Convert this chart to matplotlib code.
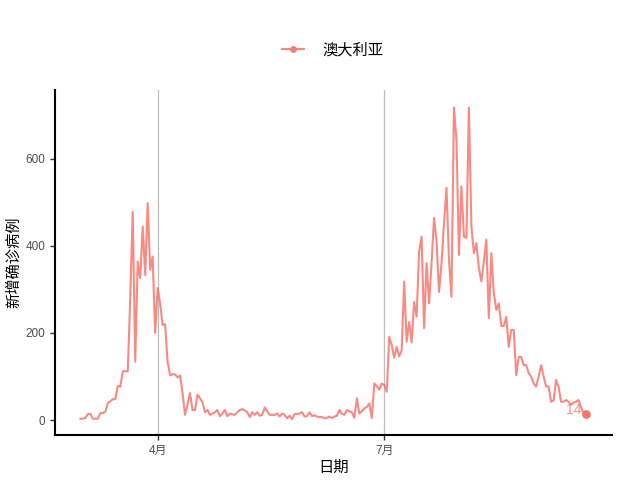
import matplotlib
matplotlib.use("Agg")
import matplotlib.pyplot as plt
import pandas as pd
from matplotlib.lines import Line2D

plt.rcParams['font.family'] = ['Liberation Sans', 'Noto Sans CJK SC', 'DejaVu Sans']

start_date = "2020-03-01"
series_name = "澳大利亚"
new_cases = [
    3, 3, 5, 14, 14, 3, 3, 3, 16, 16,
    19, 39, 43, 48, 48, 78, 77, 112, 112, 112,
    280, 478, 134, 364, 326, 444, 333, 498, 345, 375,
    200, 303, 268, 218, 220, 133, 103, 105, 105, 98,
    102, 62, 12, 35, 62, 23, 23, 58, 50, 41,
    18, 23, 12, 15, 18, 23, 9, 15, 23, 9,
    15, 13, 12, 18, 23, 25, 22, 18, 7, 18,
    12, 18, 10, 12, 29, 20, 12, 12, 12, 15,
    8, 15, 12, 4, 10, 2, 14, 14, 15, 18,
    8, 9, 18, 9, 11, 8, 7, 7, 4, 5,
    8, 5, 8, 10, 23, 14, 12, 23, 20, 18,
    5, 50, 15, 20, 27, 30, 38, 5, 84, 78,
    70, 84, 80, 65, 191, 172, 143, 168, 146, 160,
    318, 180, 225, 178, 271, 237, 387, 421, 211, 360,
    268, 360, 464, 410, 294, 360, 452, 533, 368, 283,
    717, 644, 379, 536, 421, 418, 717, 444, 383, 406,
    349, 318, 364, 414, 234, 383, 291, 253, 268, 216,
    216, 237, 168, 207, 207, 103, 145, 145, 126, 126,
    108, 100, 84, 77, 100, 126, 100, 77, 77, 42,
    45, 92, 77, 42, 42, 46, 42, 35, 40, 42,
    46, 30, 16, 14,
]
x_ticks = ["2020-04-01", "2020-07-01"]
x_tick_labels = ["4月", "7月"]
y_ticks = [0, 200, 400, 600]

dates = pd.date_range(start_date, periods=len(new_cases), freq="D")
color = "#F8766D"

fig = plt.figure(figsize=(6.4, 4.8), dpi=100)
ax = fig.add_axes([0.086, 0.094, 0.870, 0.719])

tick_dates = pd.to_datetime(x_ticks)
for t in tick_dates:
    ax.axvline(t, color="#BEBEBE", lw=0.9, zorder=0)

ax.plot(dates, new_cases, color=color, alpha=0.85, lw=1.5, zorder=2)
ax.scatter([dates[-1]], [new_cases[-1]], color=color, s=28, zorder=3)
ax.annotate(str(new_cases[-1]), (dates[-1], new_cases[-1]), xytext=(-3, 3),
            textcoords="offset points", ha="right", va="center",
            color=color, alpha=0.8, fontsize=10)

ax.set_xlim(dates[0] - pd.Timedelta(days=10.2), dates[-1] + pd.Timedelta(days=10.4))
ax.set_ylim(-34, 758)

ax.set_xticks(tick_dates)
ax.set_xticklabels(x_tick_labels)
ax.set_yticks(y_ticks)
ax.tick_params(axis="both", colors="#333333", labelcolor="#4D4D4D", labelsize=8.5,
               length=3.5, width=1)
for s in ["top", "right"]:
    ax.spines[s].set_visible(False)
for s in ["left", "bottom"]:
    ax.spines[s].set_linewidth(1.5)
    ax.spines[s].set_color("black")

ax.set_xlabel("日期", fontsize=11, labelpad=3)
ax.set_ylabel("新增确诊病例", fontsize=11, labelpad=3)

handle = Line2D([0], [0], color=color, alpha=0.85, lw=1.5, marker="o", markersize=4,
                markerfacecolor=color)
fig.legend([handle], [series_name], loc="center", bbox_to_anchor=(0.52, 0.895),
           frameon=False, fontsize=11, handlelength=1.4, handletextpad=1.2)

fig.savefig("out.png", dpi=100)
